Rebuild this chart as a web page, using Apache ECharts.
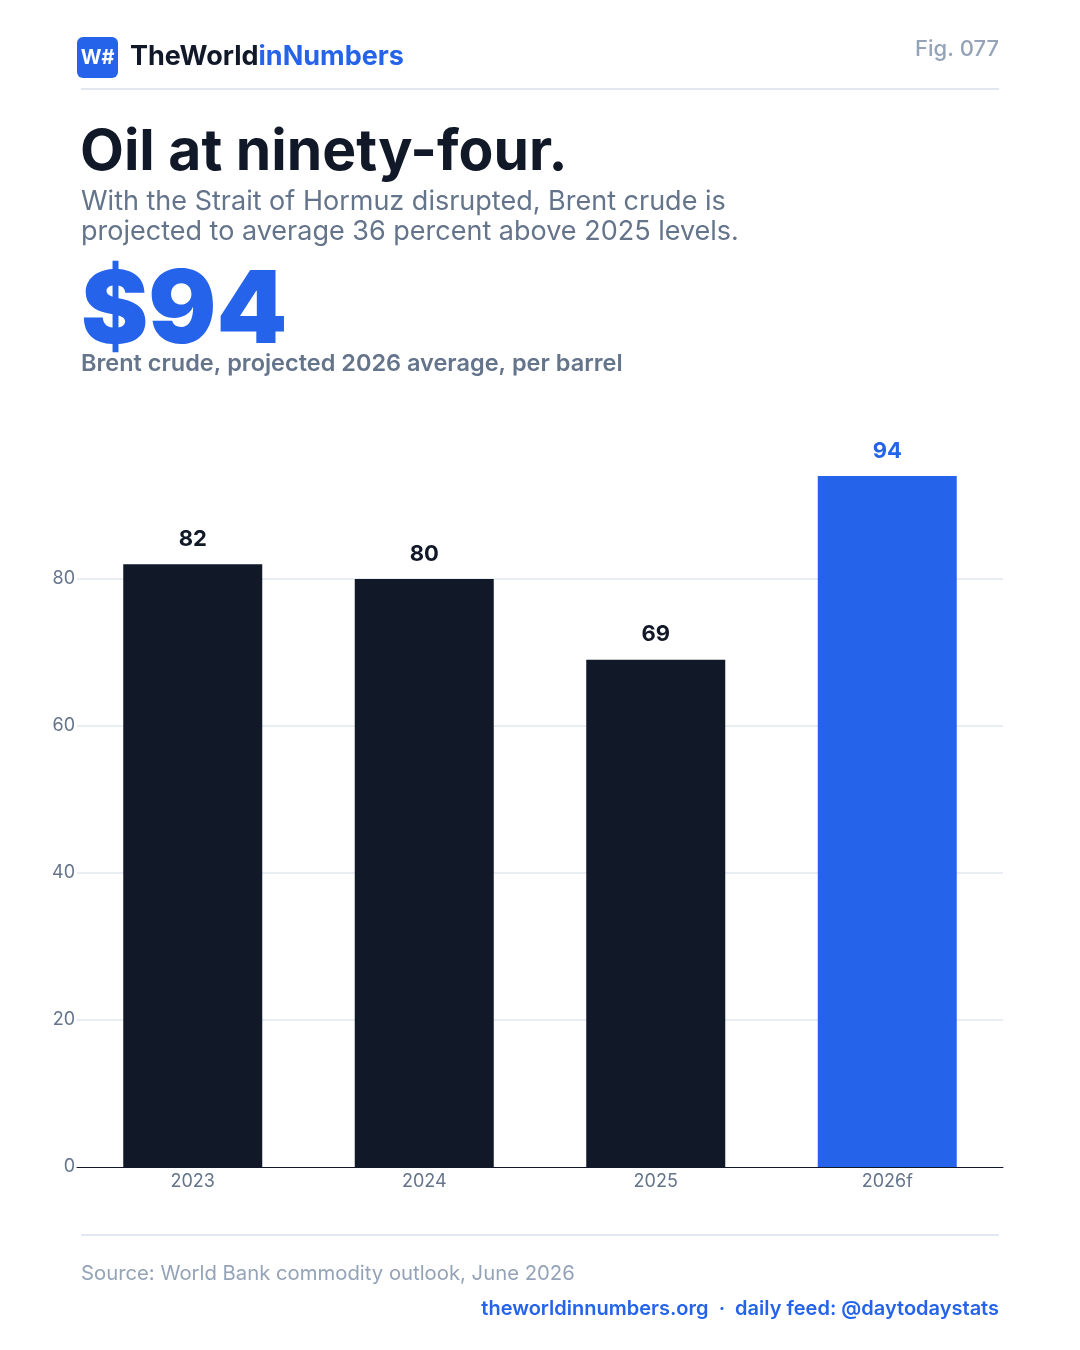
<!DOCTYPE html>
<html><head><meta charset="utf-8">
<script src="https://cdn.jsdelivr.net/npm/echarts@6/dist/echarts.min.js"></script>
<style>html,body{margin:0;padding:0;background:#fff}#c{width:1080px;height:1350px}</style>
</head><body><div id="c"></div>
<script>
const categories = ['2023', '2024', '2025', '2026f'];
const values = [82, 80, 69, 94];
const highlightIndex = 3;
const gridTicks = [20, 40, 60, 80];

const FONT = 'Inter, "Noto Sans", sans-serif';
const DARK = '#111827', BLUE = '#2563eb', GRAY = '#64748b', LIGHT = '#94a3b8', RULE = '#e2e8f0';

const chart = echarts.init(document.getElementById('c'), null, {renderer: 'canvas'});
chart.setOption({
  backgroundColor: '#fff',
  animation: false,
  textStyle: {fontFamily: FONT},
  grid: {left: 77, right: 77, top: 432, bottom: 183, containLabel: false},
  xAxis: {
    type: 'category', data: categories,
    axisLine: {show: true, lineStyle: {color: DARK, width: 1}},
    axisTick: {show: false},
    axisLabel: {color: GRAY, fontSize: 18, fontFamily: FONT, margin: 6, verticalAlign: 'top'}
  },
  yAxis: {
    type: 'value', min: 0, max: 100, interval: 20,
    axisLine: {show: false}, axisTick: {show: false},
    splitLine: {show: false},
    axisLabel: {color: GRAY, fontSize: 18, fontFamily: FONT, margin: 2,
      formatter: v => (v === 100 ? '' : String(v))}
  },
  series: [{
    type: 'bar',
    barWidth: 139,
    data: values.map((v, i) => ({
      value: v,
      itemStyle: {color: i === highlightIndex ? BLUE : DARK},
      label: {color: i === highlightIndex ? BLUE : DARK}
    })),
    label: {show: true, position: 'top', distance: 14, fontSize: 22, fontWeight: 'bold', fontFamily: FONT},
    markLine: {
      silent: true, symbol: 'none', z: 0,
      label: {show: false},
      lineStyle: {color: RULE, type: 'solid', width: 1.5},
      data: gridTicks.map(t => ({yAxis: t}))
    },
    z: 3
  }],
  graphic: [
    {type: 'rect', shape: {x: 77, y: 37, width: 41, height: 41, r: 6}, style: {fill: BLUE}},
    {type: 'text', x: 97.5, y: 57.5, style: {text: 'W#', fill: '#fff', font: 'bold 20px ' + FONT, align: 'center', verticalAlign: 'middle'}},
    {type: 'text', x: 130, y: 57, style: {
      text: '{a|TheWorld}{b|inNumbers}', verticalAlign: 'middle',
      rich: {a: {fontSize: 27, fontWeight: 'bold', fontFamily: FONT, fill: DARK},
             b: {fontSize: 27, fontWeight: 'bold', fontFamily: FONT, fill: BLUE}}
    }},
    {type: 'text', x: 999, y: 49, style: {text: 'Fig. 077', fill: LIGHT, font: '500 22px ' + FONT, align: 'right', verticalAlign: 'middle'}},
    {type: 'rect', shape: {x: 81, y: 88, width: 918, height: 2}, style: {fill: RULE}},
    {type: 'text', x: 80, y: 153, style: {text: 'Oil at ninety-four.', fill: DARK, font: 'bold 57px ' + FONT, verticalAlign: 'middle'}},
    {type: 'text', x: 81, y: 202, style: {text: 'With the Strait of Hormuz disrupted, Brent crude is', fill: GRAY, font: '27px ' + FONT, verticalAlign: 'middle'}},
    {type: 'text', x: 81, y: 232, style: {text: 'projected to average 36 percent above 2025 levels.', fill: GRAY, font: '27px ' + FONT, verticalAlign: 'middle'}},
    {type: 'text', x: 81, y: 313, style: {text: '$94', fill: BLUE, font: '900 101px ' + FONT, verticalAlign: 'middle'}},
    {type: 'text', x: 81, y: 364, style: {text: 'Brent crude, projected 2026 average, per barrel', fill: GRAY, font: '600 23.5px ' + FONT, verticalAlign: 'middle'}},
    {type: 'rect', shape: {x: 81, y: 1234, width: 918, height: 2}, style: {fill: RULE}},
    {type: 'text', x: 81, y: 1274, style: {text: 'Source: World Bank commodity outlook, June 2026', fill: LIGHT, font: '20.3px ' + FONT, verticalAlign: 'middle'}},
    {type: 'text', x: 999, y: 1309, style: {text: 'theworldinnumbers.org  ·  daily feed: @daytodaystats', fill: BLUE, font: '600 20px ' + FONT, align: 'right', verticalAlign: 'middle'}}
  ]
});
</script></body></html>
